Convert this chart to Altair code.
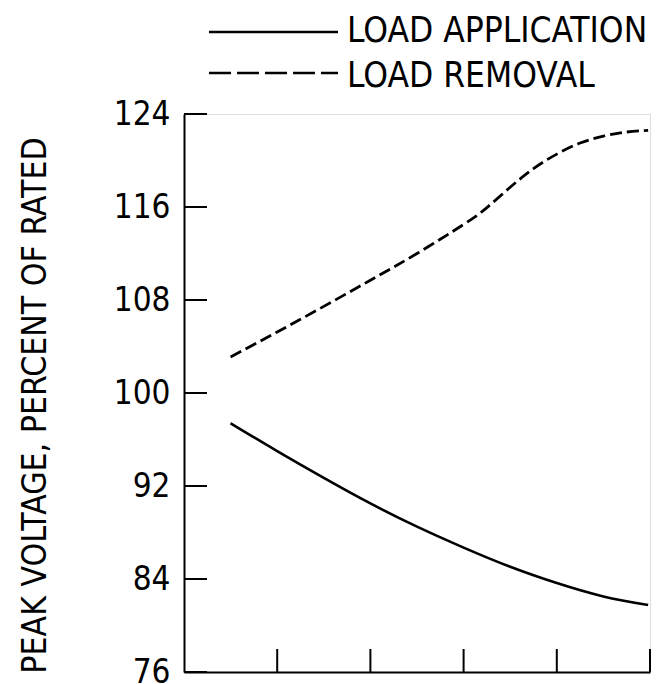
import altair as alt
import pandas as pd

# ---- data ----
x_app = [0.5, 1.0, 1.5, 2.0, 2.5, 3.0, 3.5, 4.0, 4.5, 4.98]
y_app = [97.4, 95.0, 92.7, 90.5, 88.5, 86.7, 85.05, 83.65, 82.5, 81.76]

x_rem = [0.5, 1.0, 1.5, 2.0, 2.5, 3.0, 3.25, 3.5, 3.75, 4.0, 4.25, 4.5, 4.75, 4.98]
y_rem = [103.1, 105.25, 107.45, 109.7, 112.0, 114.5, 115.95, 117.7, 119.3, 120.55, 121.5, 122.1, 122.45, 122.6]

x_ticks = [1, 2, 3, 4, 5]
y_ticks = [76, 84, 92, 100, 108, 116, 124]
series_names = ["LOAD APPLICATION", "LOAD REMOVAL"]
y_title = "PEAK VOLTAGE,  PERCENT OF RATED"

FONT = "DejaVu Sans Condensed, DejaVu Sans"
W, H = 466, 558

df_app = pd.DataFrame({"x": x_app, "y": y_app})
df_rem = pd.DataFrame({"x": x_rem, "y": y_rem})

xs = alt.Scale(domain=[0, 5], nice=False, zero=False)
ys = alt.Scale(domain=[76, 124], nice=False, zero=False)

base_x = alt.X("x:Q", scale=xs, axis=alt.Axis(labels=False, ticks=False, title=None,
                                               grid=False, domainColor="black", domainWidth=2))
base_y = alt.Y("y:Q", scale=ys, axis=alt.Axis(values=y_ticks, ticks=False, grid=False,
                                               domainColor="black", domainWidth=2,
                                               labelFont=FONT, labelFontSize=33, labelColor="black",
                                               labelPadding=14,
                                               title=y_title, titleFont=FONT, titleFontSize=33.5,
                                               titleFontWeight="normal", titleColor="black",
                                               titleX=-139, titleY=291, titleAlign="center",
                                               titleBaseline="alphabetic"))

app = alt.Chart(df_app).mark_line(color="black", strokeWidth=2.6, interpolate="natural").encode(
    x=base_x, y=base_y)
rem = alt.Chart(df_rem).mark_line(color="black", strokeWidth=2.8, strokeDash=[12, 5],
                                  interpolate="natural").encode(x="x:Q", y="y:Q")

yt = alt.Chart(pd.DataFrame({"y": y_ticks})).mark_rule(color="black", strokeWidth=2).encode(
    y=alt.Y("y:Q", scale=ys), x=alt.value(0), x2=alt.value(23))
xt = alt.Chart(pd.DataFrame({"x": x_ticks})).mark_rule(color="black", strokeWidth=2).encode(
    x=alt.X("x:Q", scale=xs), y=alt.value(H), y2=alt.value(H - 23))

leg_df = pd.DataFrame({"name": series_names})
leg1 = alt.Chart(leg_df).transform_filter(alt.datum.name == series_names[0]).mark_rule(
    color="black", strokeWidth=2.6).encode(x=alt.value(25), x2=alt.value(154), y=alt.value(-82))
leg2 = alt.Chart(leg_df).transform_filter(alt.datum.name == series_names[1]).mark_rule(
    color="black", strokeWidth=2.6, strokeDash=[22, 6]).encode(x=alt.value(25), x2=alt.value(154), y=alt.value(-41))
txt1 = alt.Chart(leg_df).transform_filter(alt.datum.name == series_names[0]).mark_text(
    font=FONT, fontSize=35, align="left", baseline="alphabetic", color="black").encode(
    text="name:N", x=alt.value(163), y=alt.value(-72))
txt2 = alt.Chart(leg_df).transform_filter(alt.datum.name == series_names[1]).mark_text(
    font=FONT, fontSize=35, align="left", baseline="alphabetic", color="black").encode(
    text="name:N", x=alt.value(163), y=alt.value(-27))

chart = alt.layer(app, rem, yt, xt, leg1, leg2, txt1, txt2).properties(
    width=W, height=H,
    autosize=alt.AutoSizeParams(type="none"),
    padding={"left": 184, "top": 114, "right": 11, "bottom": 12},
).configure_view(strokeWidth=0, stroke="transparent").configure(background="white")

chart.save("out.html", embed_options={"renderer": "svg", "actions": False})
